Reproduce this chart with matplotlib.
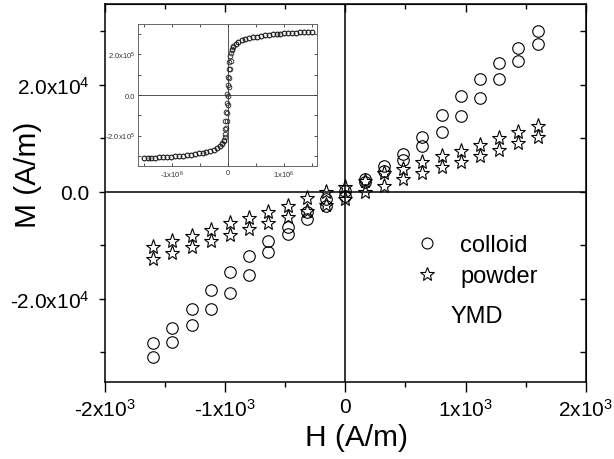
import matplotlib
matplotlib.use('Agg')
import matplotlib.pyplot as plt
import numpy as np

plt.rcParams['font.family'] = ['Liberation Sans', 'DejaVu Sans']
plt.rcParams['mathtext.default'] = 'regular'

# ---------------- data (main plot) ----------------
H = [-1600, -1440, -1280, -1120, -960, -800, -640, -480, -320, -160, 0,
     160, 320, 480, 640, 800, 960, 1120, 1280, 1440, 1600]

colloid_upper = [-28340, -25420, -21980, -18370, -15070, -12080, -9270, -6650, -3800, -1360, 190,
                 2370, 4860, 7050, 10220, 14390, 17890, 21070, 24110, 26860, 29980]
colloid_lower = [-30950, -28040, -24920, -21980, -18990, -15630, -11270, -7900, -5100, -2620, -750,
                 1760, 3930, 5930, 8600, 11210, 14210, 17460, 21010, 24490, 27610]

powder_upper = [-10390, -9270, -8220, -7100, -5910, -4920, -3740, -2620, -1230, -110, 820,
                2060, 3500, 4240, 5500, 6730, 7660, 8790, 9980, 11100, 12340]
powder_lower = [-12580, -11460, -10390, -9160, -8040, -6970, -5850, -4670, -3550, -2490, -1360,
                0, 1120, 2370, 3440, 4560, 5500, 6730, 7850, 9050, 10170]

x_ticks = [-2000, -1000, 0, 1000, 2000]
x_ticklabels = ['-2x10$^3$', '-1x10$^3$', '0', '1x10$^3$', '2x10$^3$']
x_minor = [-1500, -500, 500, 1500]
y_ticks = [-20000, 0, 20000]
y_ticklabels = ['-2.0x10$^4$', '0.0', '2.0x10$^4$']
y_minor = [-30000, -10000, 10000, 30000]

# ---------------- data (inset) ----------------
inset_H = [-1.50e6, -1.43e6, -1.36e6, -1.29e6, -1.22e6, -1.15e6, -1.08e6, -1.01e6, -0.94e6, -0.87e6,
           -0.80e6, -0.73e6, -0.66e6, -0.59e6, -0.52e6, -0.45e6, -0.38e6, -0.31e6, -0.25e6, -0.19e6,
           -0.14e6, -0.10e6, -0.07e6, -0.05e6, -0.04e6, -0.03e6, -0.02e6, -0.01e6, 0.0,
           0.01e6, 0.02e6, 0.03e6, 0.04e6, 0.05e6, 0.07e6, 0.10e6, 0.14e6, 0.19e6, 0.25e6,
           0.31e6, 0.38e6, 0.45e6, 0.52e6, 0.59e6, 0.66e6, 0.73e6, 0.80e6, 0.87e6, 0.94e6,
           1.01e6, 1.08e6, 1.15e6, 1.22e6, 1.29e6, 1.36e6, 1.43e6, 1.50e6]
# magnetisation in units of 1e5 A/m
inset_M_up = [-3.12, -3.11, -3.10, -3.09, -3.08, -3.07, -3.06, -3.05, -3.03, -3.01,
              -2.99, -2.97, -2.94, -2.91, -2.88, -2.84, -2.80, -2.75, -2.70, -2.62,
              -2.52, -2.40, -2.26, -2.08, -1.90, -1.62, -1.28, -0.90, -0.48,
              -0.05, 0.40, 0.85, 1.30, 1.70, 2.20, 2.36, 2.50, 2.61, 2.69,
              2.75, 2.80, 2.84, 2.88, 2.91, 2.94, 2.97, 2.99, 3.01, 3.03,
              3.05, 3.06, 3.07, 3.08, 3.09, 3.10, 3.11, 3.12]
inset_M_down = [-3.12, -3.11, -3.10, -3.09, -3.08, -3.07, -3.06, -3.05, -3.03, -3.01,
                -2.99, -2.97, -2.94, -2.91, -2.88, -2.84, -2.80, -2.75, -2.69, -2.61,
                -2.50, -2.36, -2.20, -1.70, -1.30, -0.85, -0.40, 0.05, 0.48,
                0.90, 1.28, 1.62, 1.90, 2.08, 2.26, 2.40, 2.52, 2.62, 2.70,
                2.75, 2.80, 2.84, 2.88, 2.91, 2.94, 2.97, 2.99, 3.01, 3.03,
                3.05, 3.06, 3.07, 3.08, 3.09, 3.10, 3.11, 3.12]
inset_xticks = [-1e6, 0, 1e6]
inset_xticklabels = ['-1x10$^6$', '0', '1x10$^6$']
inset_xminor = [-1.5e6, -0.5e6, 0.5e6, 1.5e6]
inset_yticks = [-2e5, 0, 2e5]
inset_yticklabels = ['-2.0x10$^5$', '0.0', '2.0x10$^5$']
inset_yminor = [-3e5, -1e5, 1e5, 3e5]

# ---------------- figure ----------------
fig = plt.figure(figsize=(6.14, 4.6), dpi=100)
ax = fig.add_axes([0.171, 0.167, 0.783, 0.822])

ax.axhline(0, color='black', lw=1.1, zorder=1)
ax.axvline(0, color='black', lw=1.1, zorder=1)

mk_c = dict(ls='none', marker='o', ms=8.3, mfc='none', mec='black', mew=0.8, zorder=3)
mk_s = dict(ls='none', marker='*', ms=11, mfc='none', mec='black', mew=0.8, zorder=3)
ax.plot(H, colloid_upper, label='colloid', **mk_c)
ax.plot(H, colloid_lower, **mk_c)
ax.plot(H, powder_upper, label='powder', **mk_s)
ax.plot(H, powder_lower, **mk_s)

ax.set_xlim(-2000, 2000)
ax.set_ylim(-35600, 35100)

ax.set_xticks(x_ticks, x_ticklabels)
ax.set_xticks(x_minor, minor=True)
ax.set_yticks(y_ticks, y_ticklabels)
ax.set_yticks(y_minor, minor=True)
ax.tick_params(axis='both', which='both', direction='out', labelsize=15, width=1.0)
ax.tick_params(axis='x', which='major', length=7, pad=4)
ax.tick_params(axis='x', which='minor', length=3.5)
ax.tick_params(axis='y', which='major', length=4, pad=7)
ax.tick_params(axis='y', which='minor', length=3.6)
for s in ax.spines.values():
    s.set_linewidth(1.1)

secx = ax.secondary_xaxis('top')
secx.set_xticks(x_ticks)
secx.set_xticks(x_minor, minor=True)
secx.tick_params(which='both', direction='in', labeltop=False, width=1.0)
secx.tick_params(which='major', length=6)
secx.tick_params(which='minor', length=3.6)
secy = ax.secondary_yaxis('right')
secy.set_yticks(y_ticks)
secy.set_yticks(y_minor, minor=True)
secy.tick_params(which='both', direction='in', labelright=False, width=1.0, length=4.5)

ax.set_xlabel('H (A/m)', fontsize=21.5)
ax.set_ylabel('M (A/m)', fontsize=21.5)
ax.xaxis.set_label_coords(0.524, -0.108)
ax.yaxis.set_label_coords(-0.132, 0.55)

leg = ax.legend(loc='upper left', bbox_to_anchor=(0.645, 0.392), frameon=False,
                fontsize=17, handlelength=1.0, handletextpad=0.9, labelspacing=0.4,
                borderpad=0, borderaxespad=0, markerscale=0.95)
ax.text(0.773, 0.175, 'YMD', transform=ax.transAxes, fontsize=17, ha='center', va='center')

# ---------------- inset ----------------
axi = fig.add_axes([0.2248, 0.637, 0.2922, 0.3086])
axi.axhline(0, color='#555555', lw=0.7, zorder=1)
axi.axvline(0, color='#555555', lw=0.7, zorder=1)
mk_i = dict(ls='none', marker='o', ms=3.4, mfc='none', mec='#222222', mew=0.6, zorder=3)
axi.plot(inset_H, np.array(inset_M_up) * 1e5, **mk_i)
axi.plot(inset_H, np.array(inset_M_down) * 1e5, **mk_i)
axi.set_xlim(-1.6e6, 1.6e6)
axi.set_ylim(-3.5e5, 3.5e5)
axi.set_xticks(inset_xticks, inset_xticklabels)
axi.set_xticks(inset_xminor, minor=True)
axi.set_yticks(inset_yticks, inset_yticklabels)
axi.set_yticks(inset_yminor, minor=True)
axi.tick_params(which='both', direction='in', top=True, right=True, length=2,
                width=0.6, labelsize=5.5, colors='#333333', pad=2)
for s in axi.spines.values():
    s.set_linewidth(0.7)
    s.set_color('#666666')

fig.savefig('out.png', dpi=100)
